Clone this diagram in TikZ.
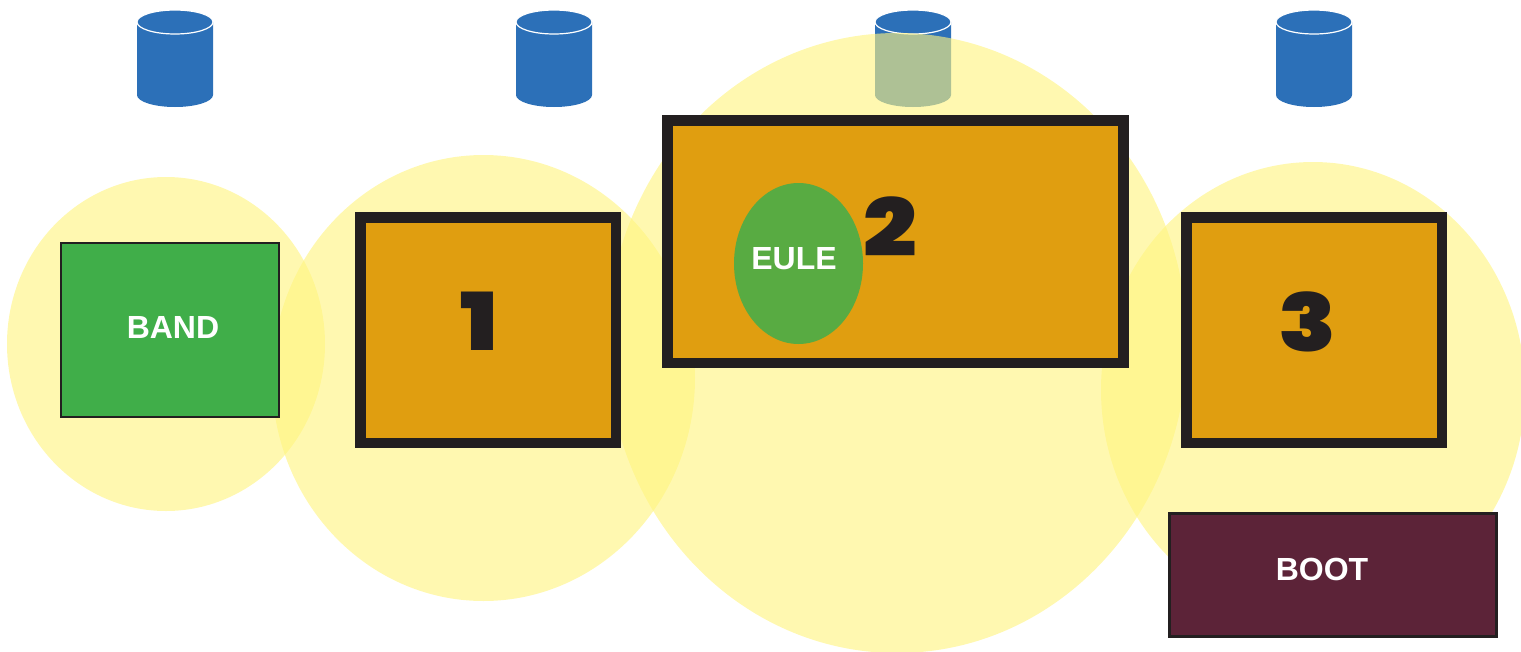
\documentclass[tikz,border=0pt]{standalone}
\usepackage{fontspec}
\setmainfont{Liberation Sans}
\newfontfamily\digitfont[FakeStretch=1.18]{Poppins Black}
\usetikzlibrary{shapes.geometric}
\definecolor{halo}{HTML}{FFF480}
\definecolor{drum}{HTML}{2C70B8}
\definecolor{amberbox}{HTML}{E09E10}
\definecolor{inkbox}{HTML}{231F20}
\definecolor{bandgreen}{HTML}{40AE49}
\definecolor{eulegreen}{HTML}{58AB42}
\definecolor{bootred}{HTML}{5C2338}
\tikzset{
  halozone/.style={ellipse,fill=halo,fill opacity=.62,draw=none,inner sep=0pt},
  heavybox/.style={rectangle,fill=amberbox,draw=inkbox,line width=10.5pt,inner sep=0pt},
  thinbox/.style={rectangle,draw=inkbox,line width=2.6pt,inner sep=0pt,text=white},
  digit/.style={text=inkbox,inner sep=0pt,font=\digitfont\fontsize{80}{80}\selectfont},
  caption/.style={text=white,inner sep=0pt,font=\bfseries\fontsize{32}{32}\selectfont},
  pics/drumcan/.style={code={
    \fill[drum] (-38,-37) -- (-38,36) arc[x radius=38,y radius=12,start angle=180,end angle=0] -- (38,-37) -- cycle;
    \draw[fill=drum,draw=white,line width=1.2pt] (0,-37) ellipse[x radius=38,y radius=12];
  }}
}
\begin{document}
\begin{tikzpicture}[x=1pt,y=-1pt]
\useasboundingbox (0,0) rectangle (1521,651);
\clip (0,0) rectangle (1521,651);
\pic at (175,59) {drumcan};
\pic at (554,59) {drumcan};
\pic at (913,59) {drumcan};
\pic at (1314,59) {drumcan};
\node[halozone,minimum width=318pt,minimum height=334pt] (z0) at (166,344) {};
\node[halozone,minimum width=423pt,minimum height=446pt] (z1) at (483.5,378) {};
\node[halozone,minimum width=580pt,minimum height=620pt] (z2) at (897,343) {};
\node[halozone,minimum width=424pt,minimum height=456pt] (z3) at (1313,390) {};
\node[thinbox,fill=bandgreen,minimum width=218pt,minimum height=174pt] (band) at (169.8,330) {};
\node[caption] (bandt) at (173,327) {BAND};
\node[heavybox,minimum width=255.5pt,minimum height=225.5pt] (b1) at (488,330) {};
\node[digit] (d1) at (479,321) {1};
\node[heavybox,minimum width=456pt,minimum height=242.5pt] (b2) at (895.5,241.5) {};
\node[digit] (d2) at (890,227) {2};
\node[heavybox,minimum width=255.5pt,minimum height=225.5pt] (b3) at (1314,330) {};
\node[digit] (d3) at (1308,322) {3};
\node[ellipse,fill=eulegreen,inner sep=0pt,minimum width=129pt,minimum height=161pt] (eule) at (798.5,263.5) {};
\node[caption] (eulet) at (794,258.5) {EULE};
\node[thinbox,fill=bootred,minimum width=327pt,minimum height=123pt] (boot) at (1333,575) {};
\node[caption] (boott) at (1322,569) {BOOT};
\end{tikzpicture}
\end{document}
